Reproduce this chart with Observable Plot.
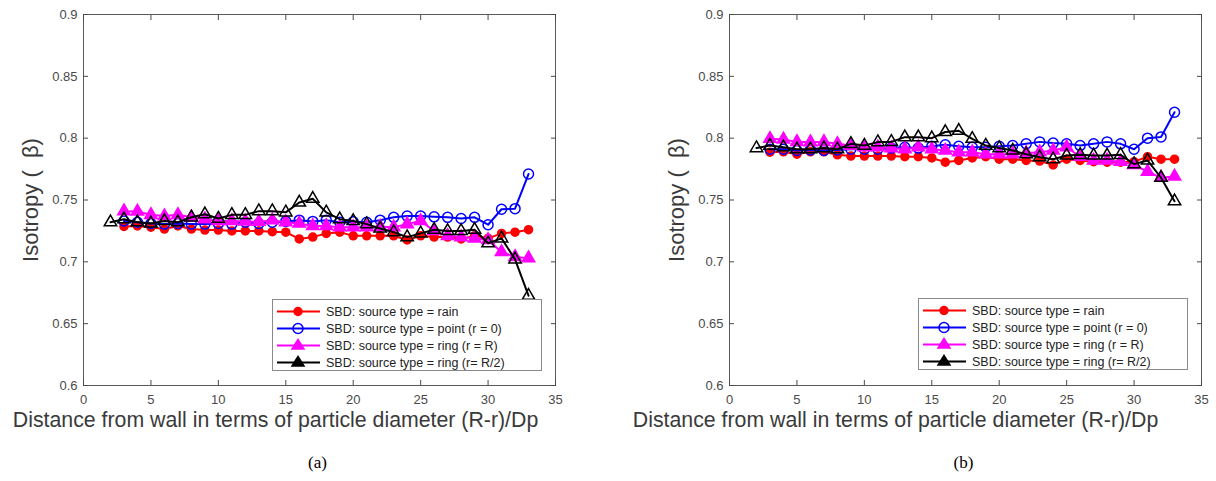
<!DOCTYPE html>
<html><head><meta charset="utf-8">
<script src="https://cdn.jsdelivr.net/npm/d3@7"></script>
<script src="https://cdn.jsdelivr.net/npm/@observablehq/plot@0.6"></script>
<style>
body{margin:0;background:#fff;font-family:"Liberation Sans",Arial,sans-serif;}
#wrap{position:relative;width:1216px;height:481px;overflow:hidden;}
.panel{position:absolute;top:0;}
.legend{position:absolute;border:1px solid #8a8a8a;background:#fff;width:268px;height:70px;font-size:12.5px;color:#222;box-sizing:content-box;}
.legend .row{position:absolute;left:0;height:17px;display:flex;align-items:center;white-space:nowrap;}
.legend svg{display:block;margin-right:3px;}
</style></head><body><div id="wrap"></div>
<script>
// ---- data ----
const distOther = [3,4,5,6,7,8,9,10,11,12,13,14,15,16,17,18,19,20,21,22,23,24,25,26,27,28,29,30,31,32,33];
const distBlack = [2,3,4,5,6,7,8,9,10,11,12,13,14,15,16,17,18,19,20,21,22,23,24,25,26,27,28,29,30,31,32,33];

const seriesNames = [
  "SBD: source type = rain",
  "SBD: source type = point (r = 0)",
  "SBD: source type = ring (r = R)",
  "SBD: source type = ring (r= R/2)"
];

// panel (a)
const aRain   = [0.7286,0.729,0.728,0.7265,0.729,0.7265,0.7257,0.7257,0.725,0.725,0.725,0.7244,0.724,0.7185,0.720,0.723,0.724,0.721,0.721,0.721,0.721,0.7177,0.721,0.720,0.720,0.7185,0.721,0.719,0.723,0.724,0.726];
const aPoint  = [0.733,0.732,0.731,0.7305,0.731,0.7305,0.7305,0.731,0.7305,0.732,0.731,0.732,0.7327,0.7337,0.7327,0.7337,0.732,0.7324,0.732,0.7337,0.736,0.737,0.737,0.7364,0.736,0.735,0.736,0.730,0.7425,0.743,0.771];
const aRingR  = [0.741,0.7407,0.738,0.737,0.738,0.736,0.7345,0.733,0.733,0.7327,0.7324,0.7337,0.732,0.731,0.729,0.729,0.728,0.728,0.728,0.7284,0.728,0.7305,0.733,0.725,0.721,0.720,0.719,0.7177,0.708,0.704,0.703];
const aRingR2 = [0.732,0.7345,0.732,0.731,0.733,0.732,0.736,0.7385,0.735,0.738,0.738,0.741,0.741,0.740,0.748,0.751,0.740,0.7345,0.733,0.7305,0.727,0.724,0.720,0.723,0.726,0.725,0.725,0.726,0.715,0.719,0.702,0.6726];

// panel (b)
const bRain   = [0.7887,0.789,0.787,0.789,0.789,0.7865,0.7855,0.7855,0.7855,0.7855,0.785,0.785,0.784,0.7806,0.782,0.784,0.785,0.783,0.783,0.782,0.7815,0.7784,0.783,0.782,0.781,0.7806,0.7806,0.781,0.785,0.783,0.783];
const bPoint  = [0.791,0.791,0.790,0.7905,0.790,0.7905,0.791,0.791,0.791,0.792,0.7927,0.792,0.7935,0.7946,0.7935,0.7927,0.7927,0.7935,0.794,0.7954,0.797,0.796,0.7954,0.794,0.7954,0.797,0.7954,0.791,0.800,0.801,0.821];
const bRingR  = [0.7995,0.799,0.797,0.7968,0.797,0.7954,0.794,0.7927,0.7927,0.792,0.791,0.7927,0.791,0.790,0.7887,0.7887,0.787,0.787,0.787,0.788,0.7887,0.790,0.7927,0.785,0.782,0.782,0.781,0.7784,0.773,0.768,0.769];
const bRingR2 = [0.792,0.794,0.7927,0.791,0.791,0.792,0.791,0.7954,0.794,0.7968,0.797,0.8008,0.8008,0.800,0.805,0.806,0.7995,0.794,0.792,0.790,0.787,0.7846,0.783,0.786,0.7865,0.786,0.786,0.7865,0.779,0.782,0.768,0.749];

const xTicks = [0,5,10,15,20,25,30,35];
const yTicks = [0.6,0.65,0.7,0.75,0.8,0.85,0.9];

const styles = [
  {color:"#ff0000", symbol:"circle",   fill:"#ff0000", r:4},
  {color:"#0000ff", symbol:"circle",   fill:"none",    r:5},
  {color:"#ff00ff", symbol:"triangle", fill:"#ff00ff", r:4.6},
  {color:"#000000", symbol:"triangle", fill:"none",    r:4.6}
];

function toRows(xsArr, ys){ return ys.map((v,i)=>({x:xsArr[i], y:v})); }

function panel(vals, left, ml, mr, caption, xlabDx){
  const sets = [
    toRows(distOther, vals[0]),
    toRows(distOther, vals[1]),
    toRows(distOther, vals[2]),
    toRows(distBlack, vals[3])
  ];
  const marks = [
    Plot.frame({stroke:"#5a5a5a", strokeWidth:1}),
    Plot.axisX({ticks:xTicks, tickSize:-5, tickPadding:14, fontSize:13, color:"#4a4a4a", label:null}),
    Plot.axisX({anchor:"top", ticks:xTicks, tickSize:-5, tickFormat:()=>"", label:null, color:"#4a4a4a"}),
    Plot.axisY({ticks:yTicks, tickSize:-5, tickPadding:11, fontSize:13, color:"#4a4a4a", label:null, tickFormat:d=>String(d)}),
    Plot.axisY({anchor:"right", ticks:yTicks, tickSize:-5, tickFormat:()=>"", label:null, color:"#4a4a4a"})
  ];
  sets.forEach((d,i)=>{
    const s = styles[i];
    marks.push(Plot.line(d, {x:"x", y:"y", stroke:s.color, strokeWidth:2}));
    marks.push(Plot.dot(d, {x:"x", y:"y", symbol:s.symbol, r:s.r, stroke:s.color, fill:s.fill, strokeWidth:1.5}));
  });
  marks.push(Plot.text(["Distance from wall in terms of particle diameter (R-r)/Dp"], {frameAnchor:"bottom", dy:41, fontSize:21.3, fill:"#3a3a3a", dx:xlabDx, textAnchor:"middle"}));
  marks.push(Plot.text(["Isotropy (  β)"], {frameAnchor:"left", rotate:-90, dx:-53, fontSize:22, fill:"#3a3a3a", textAnchor:"middle"}));
  marks.push(Plot.text([caption], {frameAnchor:"bottom", dy:82, fontSize:17, fill:"#000", fontFamily:"Liberation Serif, serif", dx:-2, textAnchor:"middle"}));
  const chart = Plot.plot({
    width:608, height:481,
    marginLeft:ml, marginRight:mr, marginTop:14, marginBottom:96,
    x:{domain:[0,35]},
    y:{domain:[0.6,0.9]},
    style:{fontFamily:"Liberation Sans, Arial, sans-serif", background:"transparent"},
    marks
  });
  const div = document.createElement("div");
  div.className = "panel";
  div.style.left = left + "px";
  div.appendChild(chart);
  return div;
}

function legend(left, top){
  const lg = document.createElement("div");
  lg.className = "legend";
  lg.style.left = left + "px";
  lg.style.top = top + "px";
  seriesNames.forEach((name,i)=>{
    const s = styles[i];
    const row = document.createElement("div");
    row.className = "row";
    row.style.top = (3 + i*17) + "px";
    const fill = s.fill === "none" ? (i===3 ? "#000" : "none") : s.fill;
    let marker;
    if (s.symbol === "circle") marker = `<circle cx="25" cy="8.5" r="${s.r}" fill="${fill}" stroke="${s.color}" stroke-width="1.5"/>`;
    else marker = `<path d="M25,2.5 L31,12 L19,12 Z" fill="${fill}" stroke="${s.color}" stroke-width="1.5"/>`;
    row.innerHTML = `<svg width="50" height="17"><line x1="4" y1="8.5" x2="47" y2="8.5" stroke="${s.color}" stroke-width="2"/>${marker}</svg><span>${name}</span>`;
    lg.appendChild(row);
  });
  return lg;
}

const wrap = document.getElementById("wrap");
wrap.appendChild(panel([aRain,aPoint,aRingR,aRingR2], 0, 83, 53, "(a)", -44));
wrap.appendChild(panel([bRain,bPoint,bRingR,bRingR2], 608, 121, 15, "(b)", -70));
wrap.appendChild(legend(272, 299));
wrap.appendChild(legend(918, 298));
</script></body></html>
